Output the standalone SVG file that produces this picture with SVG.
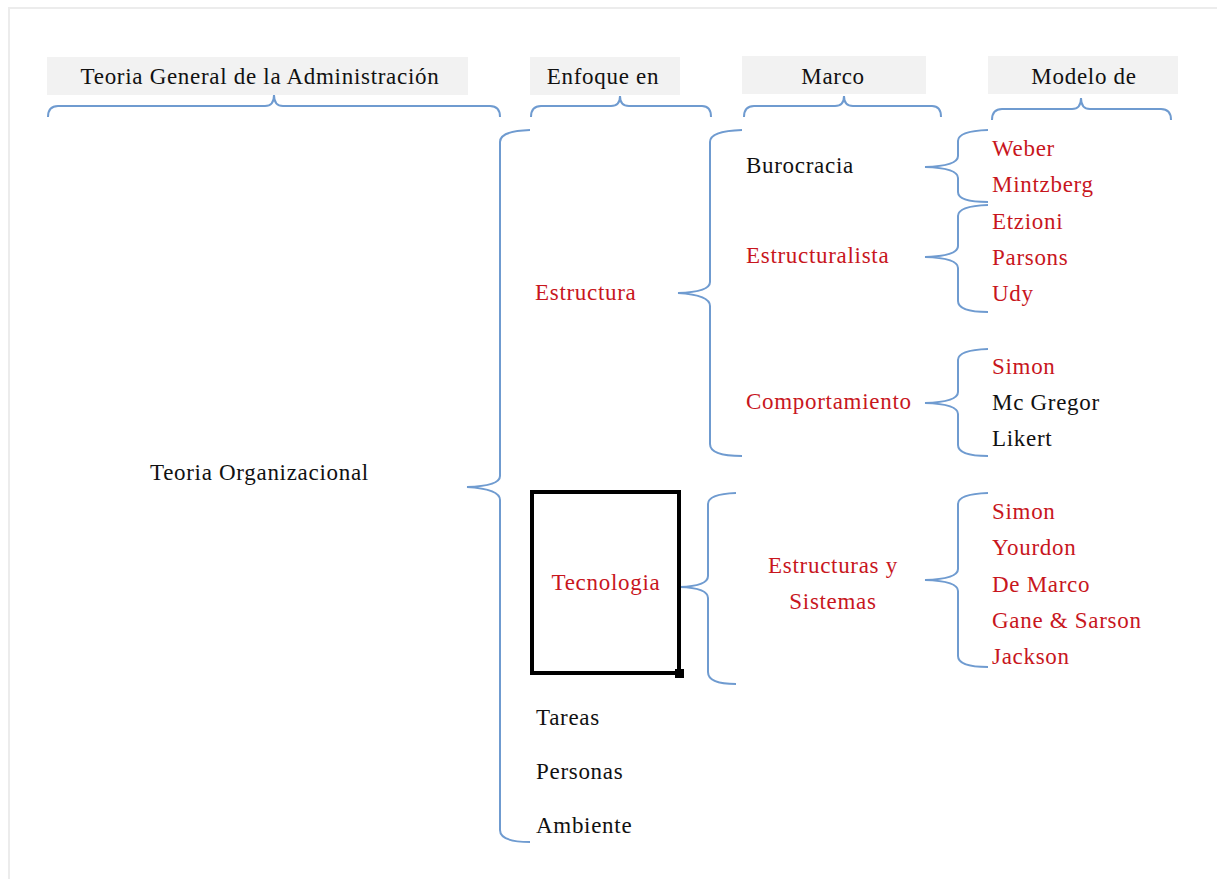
<svg xmlns="http://www.w3.org/2000/svg" width="1217" height="879" viewBox="0 0 1217 879">
<style>
text{font-family:"Liberation Serif","Times New Roman",serif;font-size:23px;letter-spacing:0.7px;fill:#111}
.r{fill:#c8161d}
.c{text-anchor:middle}
.hb{fill:#f2f2f2}
.br{fill:none;stroke:#6f9bd0;stroke-width:2}
</style>
<rect width="1217" height="879" fill="#fff"/>
<path d="M9,879 L9,8 L1217,8" fill="none" stroke="#ececec" stroke-width="2"/>
<g id="headers">
<g id="h1"><rect class="hb" x="47" y="57" width="421" height="38"/><text class="c" x="260" y="84">Teoria General de la Administración</text></g>
<g id="h2"><rect class="hb" x="530" y="57" width="150" height="38"/><text class="c" x="603" y="84">Enfoque en</text></g>
<g id="h3"><rect class="hb" x="742" y="56" width="184" height="38"/><text class="c" x="833" y="84">Marco</text></g>
<g id="h4"><rect class="hb" x="988" y="56" width="190" height="38"/><text class="c" x="1084" y="84">Modelo de</text></g>
</g>
<g id="connectors">
<path class="br" d="M48,117 Q48,106 58,106 L265,106 Q274,106 274,95 Q274,106 283,106 L490,106 Q500,106 500,117"/>
<path class="br" d="M531,117 Q531,106 541,106 L611,106 Q620,106 620,96 Q620,106 629,106 L702,106 Q711,106 711,117"/>
<path class="br" d="M744,117 Q744,106 754,106 L835,106 Q844,106 844,96 Q844,106 853,106 L932,106 Q941,106 941,117"/>
<path class="br" d="M992,120 Q992,109 1002,109 L1072,109 Q1081,109 1081,98 Q1081,109 1090,109 L1161,109 Q1171,109 1171,120"/>
<path class="br" d="M530,130 Q500,131 500,142 L500,476 Q500,486 467,487 Q500,489 500,500 L500,830 Q500,842 530,842"/>
<path class="br" d="M742,130 Q710,131 710,142 L710,282 Q710,292 678,293 Q710,295 710,306 L710,444 Q710,456 742,456"/>
<path class="br" d="M988,130 Q958,131 958,141 L958,156 Q958,166 925,167 Q958,168 958,178 L958,192 Q958,202 988,202"/>
<path class="br" d="M988,205 Q958,206 958,216 L958,246 Q958,256 925,257 Q958,258 958,268 L958,301 Q958,312 988,312"/>
<path class="br" d="M988,349 Q958,350 958,360 L958,392 Q958,402 925,403 Q958,404 958,414 L958,445 Q958,456 988,456"/>
<path class="br" d="M736,493 Q708,494 708,504 L708,576 Q708,586 680,587 Q708,588 708,598 L708,672 Q708,684 736,684"/>
<path class="br" d="M988,493 Q958,494 958,504 L958,569 Q958,579 925,580 Q958,581 958,591 L958,656 Q958,667 988,667"/>
</g>
<g id="n-teoria-org"><text x="150" y="480">Teoria Organizacional</text></g>
<g id="n-estructura"><text class="r" x="535" y="300">Estructura</text></g>
<g id="n-tecnologia">
<rect x="532" y="492" width="147" height="181" fill="none" stroke="#000" stroke-width="4"/>
<rect x="675" y="669" width="9" height="9" fill="#000"/>
<text class="r c" x="606" y="590">Tecnologia</text>
</g>
<g id="n-tareas"><text x="536" y="725">Tareas</text></g>
<g id="n-personas"><text x="536" y="779">Personas</text></g>
<g id="n-ambiente"><text x="536" y="833">Ambiente</text></g>
<g id="n-burocracia"><text x="746" y="173">Burocracia</text></g>
<g id="n-estructuralista"><text class="r" x="746" y="263">Estructuralista</text></g>
<g id="n-comportamiento"><text class="r" x="746" y="409">Comportamiento</text></g>
<g id="n-estsis"><text class="r c" x="833" y="573">Estructuras y</text><text class="r c" x="833" y="609">Sistemas</text></g>
<g id="n-weber"><text class="r" x="992" y="156">Weber</text></g>
<g id="n-mintzberg"><text class="r" x="992" y="192">Mintzberg</text></g>
<g id="n-etzioni"><text class="r" x="992" y="229">Etzioni</text></g>
<g id="n-parsons"><text class="r" x="992" y="265">Parsons</text></g>
<g id="n-udy"><text class="r" x="992" y="301">Udy</text></g>
<g id="n-simon1"><text class="r" x="992" y="374">Simon</text></g>
<g id="n-mcgregor"><text x="992" y="410">Mc Gregor</text></g>
<g id="n-likert"><text x="992" y="446">Likert</text></g>
<g id="n-simon2"><text class="r" x="992" y="519">Simon</text></g>
<g id="n-yourdon"><text class="r" x="992" y="555">Yourdon</text></g>
<g id="n-demarco"><text class="r" x="992" y="592">De Marco</text></g>
<g id="n-gane"><text class="r" x="992" y="628">Gane &amp; Sarson</text></g>
<g id="n-jackson"><text class="r" x="992" y="664">Jackson</text></g>
</svg>
